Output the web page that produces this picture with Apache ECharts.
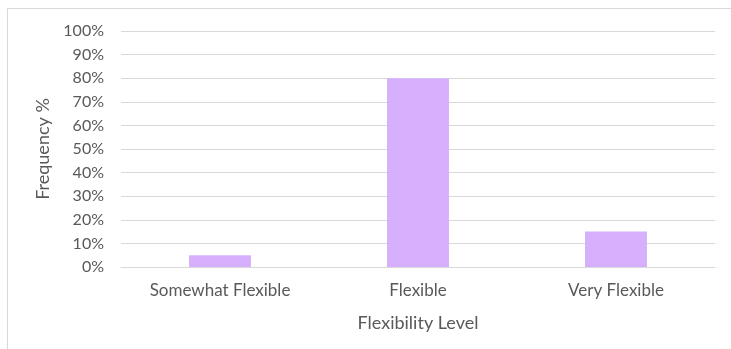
<!DOCTYPE html>
<html>
<head>
<meta charset="utf-8">
<script src="https://cdn.jsdelivr.net/npm/echarts@6/dist/echarts.min.js"></script>
<style>
  html, body { margin: 0; padding: 0; background: #ffffff; }
  #chart { width: 731px; height: 349px; }
</style>
</head>
<body>
<div id="chart"></div>
<script>
// Share of respondents by flexibility level
const categories = ['Somewhat Flexible', 'Flexible', 'Very Flexible'];
const frequency = [5, 80, 15];
const yTicks = [0, 10, 20, 30, 40, 50, 60, 70, 80, 90, 100];

const FONT = 'Lato';
const TEXT = '#595959';

const chart = echarts.init(document.getElementById('chart'), null, { renderer: 'canvas' });
chart.setOption({
  backgroundColor: '#ffffff',
  animation: false,
  graphic: [{
    type: 'rect',
    shape: { x: 7.5, y: 8.5, width: 740, height: 360 },
    style: { fill: 'none', stroke: '#d9d9d9', lineWidth: 1 },
    silent: true
  }],
  grid: { left: 121, right: 16, top: 31, bottom: 82 },
  xAxis: {
    type: 'category',
    data: categories,
    name: 'Flexibility Level',
    nameLocation: 'middle',
    nameGap: 47,
    nameTextStyle: { fontFamily: FONT, fontSize: 18, color: TEXT },
    axisLine: { show: true, lineStyle: { color: '#d9d9d9', width: 1 } },
    axisTick: { show: false },
    axisLabel: { fontFamily: FONT, fontSize: 17, color: TEXT, margin: 15 }
  },
  yAxis: {
    type: 'value',
    min: yTicks[0],
    max: yTicks[yTicks.length - 1],
    interval: 10,
    name: 'Frequency %',
    nameLocation: 'middle',
    nameGap: 62,
    nameRotate: 90,
    nameTextStyle: { fontFamily: FONT, fontSize: 18, color: TEXT },
    axisLine: { show: false },
    axisTick: { show: false },
    axisLabel: { fontFamily: FONT, fontSize: 16, color: TEXT, margin: 17, formatter: v => v + '%' },
    splitLine: { lineStyle: { color: '#d9d9d9', width: 1 } }
  },
  series: [{
    type: 'bar',
    data: frequency,
    barWidth: '31.3%',
    itemStyle: { color: '#d6b0fc' }
  }]
});
</script>
</body>
</html>
